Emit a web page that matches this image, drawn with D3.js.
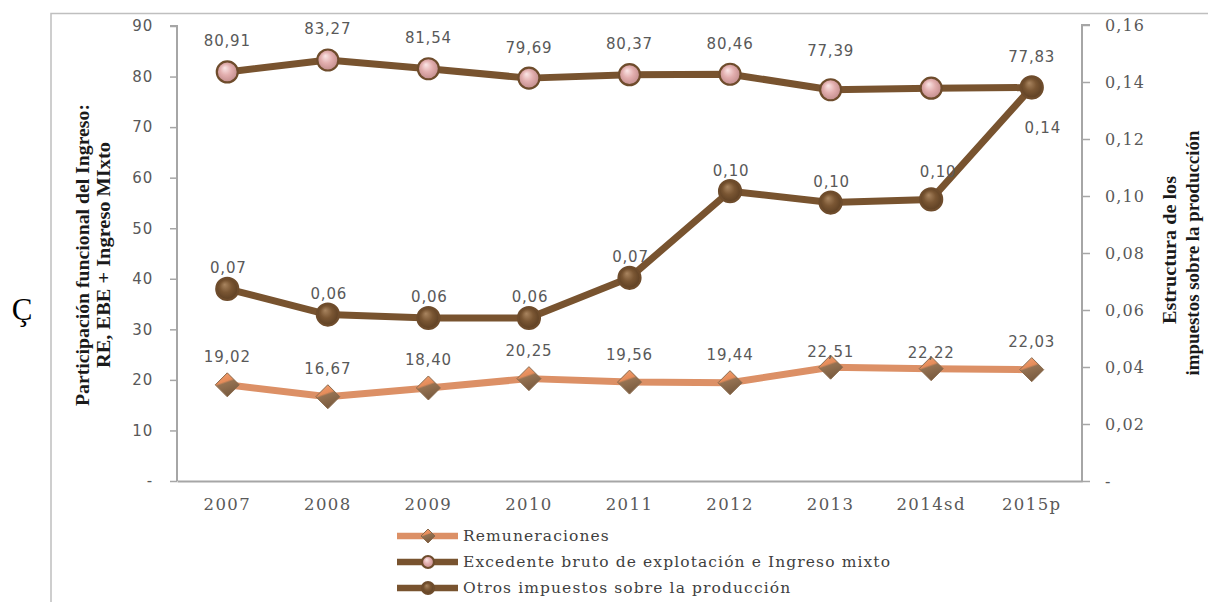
<!DOCTYPE html>
<html lang="es">
<head>
<meta charset="utf-8">
<script src="https://cdn.jsdelivr.net/npm/d3@7"></script>
<style>
  html, body { margin: 0; padding: 0; background: #fff; }
  svg { display: block; }
</style>
</head>
<body>
<svg id="chart" width="1208" height="602"></svg>
<script>
// Años y series
const categories = ["2007", "2008", "2009", "2010", "2011", "2012", "2013", "2014sd", "2015p"];
const remuneraciones = [19.02, 16.67, 18.40, 20.25, 19.56, 19.44, 22.51, 22.22, 22.03];
const excedente = [80.91, 83.27, 81.54, 79.69, 80.37, 80.46, 77.39, 77.70, 77.83];
const otrosImpuestos = [0.0674, 0.0584, 0.0572, 0.0572, 0.0713, 0.1017, 0.0977, 0.0988, 0.1381];
// Etiquetas de datos visibles (la de 2014sd del excedente no se muestra)
const excedenteLabelShown = [true, true, true, true, true, true, true, false, true];

// Marcas de los ejes
const leftTicks = [0, 10, 20, 30, 40, 50, 60, 70, 80, 90];
const rightTicks = [0, 0.02, 0.04, 0.06, 0.08, 0.10, 0.12, 0.14, 0.16];

const seriesNames = [
  "Remuneraciones",
  "Excedente bruto de explotación e Ingreso mixto",
  "Otros impuestos sobre la producción"
];

const locale = d3.formatLocale({ decimal: ",", thousands: ".", grouping: [3], currency: ["$", ""] });
const fmt2 = locale.format(".2f");
const fmtLeft = v => v === 0 ? "-" : String(v);
const fmtRight = v => v === 0 ? "-" : fmt2(v);

const svg = d3.select("#chart");

const plot = { left: 177, right: 1082, top: 26, bottom: 481 };

const x = d3.scaleBand().domain(categories).range([plot.left, plot.right]).padding(0);
const cx = d => x(d) + x.bandwidth() / 2;
const yL = d3.scaleLinear().domain([0, 90]).range([plot.bottom, plot.top]);
const yR = d3.scaleLinear().domain([0, 0.16]).range([plot.bottom, plot.top - 1]);

const brown = "#78532F";
const salmon = "#DC9066";
const axisGrey = "#A6A6A6";
const textGrey = "#595959";

// Degradados de los marcadores
const defs = svg.append("defs");
const pinkBall = defs.append("radialGradient").attr("id", "pinkBall")
  .attr("cx", "50%").attr("cy", "50%").attr("r", "60%").attr("fx", "38%").attr("fy", "30%");
pinkBall.append("stop").attr("offset", "0%").attr("stop-color", "#FBE6E6");
pinkBall.append("stop").attr("offset", "45%").attr("stop-color", "#E2AEAE");
pinkBall.append("stop").attr("offset", "100%").attr("stop-color", "#B98383");

const brownBall = defs.append("radialGradient").attr("id", "brownBall")
  .attr("cx", "50%").attr("cy", "50%").attr("r", "60%").attr("fx", "38%").attr("fy", "30%");
brownBall.append("stop").attr("offset", "0%").attr("stop-color", "#A98560");
brownBall.append("stop").attr("offset", "45%").attr("stop-color", "#7A5633");
brownBall.append("stop").attr("offset", "100%").attr("stop-color", "#55391F");

const diamondFill = defs.append("linearGradient").attr("id", "diamondFill")
  .attr("x1", "0").attr("y1", "0").attr("x2", "0.35").attr("y2", "1");
diamondFill.append("stop").attr("offset", "0%").attr("stop-color", "#F4A274");
diamondFill.append("stop").attr("offset", "44%").attr("stop-color", "#E58C5A");
diamondFill.append("stop").attr("offset", "52%").attr("stop-color", "#957252");
diamondFill.append("stop").attr("offset", "100%").attr("stop-color", "#7A5C40");

// Marco exterior
svg.append("path")
  .attr("d", "M51,602 L51,13.5 L1208,13.5")
  .attr("fill", "none").attr("stroke", "#BFBFBF").attr("stroke-width", 1.5);

svg.append("text")
  .attr("x", 22).attr("y", 320)
  .attr("text-anchor", "middle")
  .attr("font-family", "Liberation Serif, Times New Roman, serif")
  .attr("font-size", 31).attr("fill", "#000")
  .text("Ç");

// Ejes
const gLeft = svg.append("g").attr("transform", `translate(${plot.left},0)`)
  .call(d3.axisLeft(yL).tickValues(leftTicks).tickFormat(fmtLeft).tickSize(7).tickPadding(17));
const gRight = svg.append("g").attr("transform", `translate(${plot.right},0)`)
  .call(d3.axisRight(yR).tickValues(rightTicks).tickFormat(fmtRight).tickSize(8).tickPadding(15));
const gBottom = svg.append("g").attr("transform", `translate(0,${plot.bottom})`)
  .call(d3.axisBottom(x).tickSize(0).tickPadding(17));

[gLeft, gRight, gBottom].forEach(g => {
  g.select(".domain").attr("stroke", axisGrey).attr("stroke-width", 2);
  g.selectAll(".tick line").attr("stroke", axisGrey).attr("stroke-width", 1.5);
  g.selectAll("text").attr("fill", textGrey);
});
gLeft.select(".domain").attr("d", `M-7,${plot.top}H0V${plot.bottom}`);
gRight.select(".domain").attr("d", `M8,${plot.top - 1}H0V${plot.bottom}`);
gLeft.selectAll("text").attr("font-family", "DejaVu Sans, Verdana, sans-serif")
  .attr("font-size", 15).attr("letter-spacing", "0.8px");
gRight.selectAll("text").attr("font-family", "DejaVu Serif, serif")
  .attr("font-size", 16).attr("letter-spacing", "1.1px");
gBottom.selectAll("text").attr("font-family", "DejaVu Serif, serif")
  .attr("font-size", 16.5).attr("letter-spacing", "1.4px");

// Títulos de los ejes
const titleFont = "Liberation Serif, Times New Roman, serif";
const leftTitle = svg.append("text")
  .attr("transform", "translate(89,255) rotate(-90)")
  .attr("text-anchor", "middle")
  .attr("font-family", titleFont).attr("font-weight", "bold")
  .attr("font-size", 18).attr("fill", "#1a1a1a");
leftTitle.append("tspan").attr("x", 0).attr("y", 0)
  .attr("textLength", 302).attr("lengthAdjust", "spacingAndGlyphs")
  .text("Participación funcional del Ingreso:");
leftTitle.append("tspan").attr("x", 0).attr("y", 21)
  .attr("textLength", 226).attr("lengthAdjust", "spacingAndGlyphs")
  .text("RE, EBE + Ingreso MIxto");

const rightTitle = svg.append("text")
  .attr("transform", "translate(1176,250) rotate(-90)")
  .attr("text-anchor", "middle")
  .attr("font-family", titleFont).attr("font-weight", "bold")
  .attr("font-size", 18).attr("fill", "#1a1a1a");
rightTitle.append("tspan").attr("x", 0).attr("y", 0)
  .attr("textLength", 148).attr("lengthAdjust", "spacingAndGlyphs")
  .text("Estructura de los");
rightTitle.append("tspan").attr("x", -3).attr("y", 23)
  .attr("textLength", 245).attr("lengthAdjust", "spacingAndGlyphs")
  .text("impuestos sobre la producción");

// Líneas
const lineL = d3.line().x((d, i) => cx(categories[i])).y(d => yL(d));
const lineR = d3.line().x((d, i) => cx(categories[i])).y(d => yR(d));

svg.append("path").datum(remuneraciones)
  .attr("d", lineL).attr("fill", "none").attr("stroke", salmon)
  .attr("stroke-width", 7).attr("stroke-linejoin", "round");
svg.append("path").datum(excedente)
  .attr("d", lineL).attr("fill", "none").attr("stroke", brown)
  .attr("stroke-width", 7).attr("stroke-linejoin", "round");
svg.append("path").datum(otrosImpuestos)
  .attr("d", lineR).attr("fill", "none").attr("stroke", brown)
  .attr("stroke-width", 7).attr("stroke-linejoin", "round");

const diamond = s => `M0,${-s}L${s},0L0,${s}L${-s},0Z`;

function diamondMarker(g, s) {
  g.append("path").attr("d", diamond(s)).attr("fill", "url(#diamondFill)")
    .attr("stroke", "#8A6A4C").attr("stroke-width", 1);
}
function ballMarker(g, r, fill) {
  g.append("circle").attr("r", r).attr("fill", fill)
    .attr("stroke", "#6E4C2C").attr("stroke-width", 2.2);
}

// Marcadores
svg.append("g").selectAll("g").data(remuneraciones).join("g")
  .attr("transform", (d, i) => `translate(${cx(categories[i])},${yL(d)})`)
  .each(function () { diamondMarker(d3.select(this), 12); });
svg.append("g").selectAll("g").data(excedente).join("g")
  .attr("transform", (d, i) => `translate(${cx(categories[i])},${yL(d)})`)
  .each(function () { ballMarker(d3.select(this), 10.5, "url(#pinkBall)"); });
svg.append("g").selectAll("g").data(otrosImpuestos).join("g")
  .attr("transform", (d, i) => `translate(${cx(categories[i])},${yR(d)})`)
  .each(function () { ballMarker(d3.select(this), 11, "url(#brownBall)"); });

// Etiquetas de datos (desplazamiento respecto al punto)
const labelOffsets = {
  rem: categories.map(c => (c === "2013" || c === "2014sd") ? [0, -16] : [0, -28]),
  ebe: categories.map(c => c === "2013" ? [0, -39] : [0, -31]),
  otros: categories.map(c => c === "2015p" ? [11, 40] : c === "2014sd" ? [7, -28] : [1, -21])
};

function drawLabelSet(values, scale, offsets, shown) {
  const g = svg.append("g");
  values.forEach((v, i) => {
    if (shown && !shown[i]) return;
    g.append("text")
      .attr("x", cx(categories[i]) + offsets[i][0])
      .attr("y", scale(v) + offsets[i][1])
      .attr("dy", "0.36em")
      .attr("text-anchor", "middle")
      .attr("font-family", "DejaVu Sans, Verdana, sans-serif")
      .attr("font-size", 15).attr("letter-spacing", "0.8px")
      .attr("fill", textGrey)
      .text(fmt2(v));
  });
}

drawLabelSet(remuneraciones, yL, labelOffsets.rem, null);
drawLabelSet(excedente, yL, labelOffsets.ebe, excedenteLabelShown);
drawLabelSet(otrosImpuestos, yR, labelOffsets.otros, null);

// Leyenda
const legend = svg.append("g").attr("transform", "translate(397,536)");
const legendRows = legend.selectAll("g").data(seriesNames).join("g")
  .attr("transform", (d, i) => `translate(0,${i * 26})`);
legendRows.append("line")
  .attr("x1", 0).attr("x2", 61).attr("y1", 0).attr("y2", 0)
  .attr("stroke", (d, i) => i === 0 ? salmon : brown).attr("stroke-width", 6.5);
legendRows.each(function (d, i) {
  const m = d3.select(this).append("g").attr("transform", "translate(31,0)");
  if (i === 0) diamondMarker(m, 7);
  else ballMarker(m, 6, i === 1 ? "url(#pinkBall)" : "url(#brownBall)");
});
legendRows.append("text")
  .attr("x", 66).attr("y", 0).attr("dy", "0.35em")
  .attr("font-family", "DejaVu Serif, serif")
  .attr("font-size", 15.5).attr("letter-spacing", "1.1px")
  .attr("fill", "#404040")
  .text(d => d);
</script>
</body>
</html>
